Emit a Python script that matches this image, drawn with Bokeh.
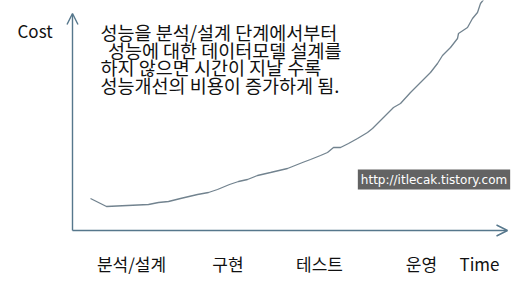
from bokeh.plotting import figure
from bokeh.models import Range1d, Arrow, OpenHead, Label, ColumnDataSource
from bokeh.core.properties import value
from bokeh.embed import file_html
from bokeh.resources import INLINE

# ---- data (time / cost in chart units, origin at the axes corner) ----
curve_time = [18, 34, 76, 86, 96, 108, 125, 136, 145, 157, 166, 175, 185, 198, 215, 220,
              230, 238, 248, 255, 261, 268, 276, 285, 295, 300, 311, 321, 328, 338, 348,
              358, 365, 370, 378, 385, 386, 395, 400, 405, 408, 412]
curve_cost = [32, 24, 26, 28, 29, 32, 36, 38, 41, 46, 49, 51, 55, 58, 62, 64,
              68, 71, 75, 78, 83, 83, 87, 92, 98, 102, 113, 123, 127, 138, 148,
              158, 167, 175, 183, 192, 197, 203, 212, 218, 227, 232]

phases = ["분석/설계", "구현", "테스트", "운영"]
phase_time = [59, 155.5, 247, 349]
x_title = "Time"
y_title = "Cost"
note_lines = ["성능을 분석/설계 단계에서부터",
              " 성능에 대한 데이터모델 설계를",
              "하지 않으면 시간이 지날 수록",
              "성능개선의 비용이 증가하게 됨."]
watermark = "http://itlecak.tistory.com"

AXIS_TIME_MAX = 435
AXIS_COST_MAX = 217

KFONT = "Noto Sans CJK KR"
AXIS_COLOR = "#56778c"
CURVE_COLOR = "#72838f"
NOTE_SIZE = 18.5

p = figure(width=522, height=283, output_backend="svg", toolbar_location=None,
           x_range=Range1d(-72, 450), y_range=Range1d(-53, 230),
           x_axis_type=None, y_axis_type=None, min_border=0)
p.grid.visible = False
p.outline_line_color = None
p.background_fill_color = "white"
p.border_fill_color = "white"

# axes with open arrow heads
p.add_layout(Arrow(x_start=0, y_start=0, x_end=AXIS_TIME_MAX, y_end=0,
                   line_color=AXIS_COLOR, line_width=1.4,
                   end=OpenHead(size=11, line_color=AXIS_COLOR, line_width=1.4)))
p.add_layout(Arrow(x_start=0, y_start=0, x_end=0, y_end=AXIS_COST_MAX,
                   line_color=AXIS_COLOR, line_width=1.4,
                   end=OpenHead(size=11, line_color=AXIS_COLOR, line_width=1.4)))

# cost curve
p.line(curve_time, curve_cost, line_color=CURVE_COLOR, line_width=1.3)

# phase labels along the time axis
src = ColumnDataSource(dict(x=phase_time, y=[-33] * len(phases), t=phases))
p.text(x="x", y="y", text="t", source=src, text_font=value(KFONT),
       text_font_size="17px", text_align="center", text_baseline="middle",
       text_color="#111111")

p.add_layout(Label(x=407, y=-33, text=x_title, text_font=KFONT, text_font_size="17px",
                   text_align="center", text_baseline="middle", text_color="#111111"))
p.add_layout(Label(x=-55, y=200, text=y_title, text_font=KFONT, text_font_size="17px",
                   text_align="left", text_baseline="middle", text_color="#111111"))

# note text block (a leading space is rendered as a small indent)
for i, line in enumerate(note_lines):
    indent = NOTE_SIZE * 0.4 * (len(line) - len(line.lstrip(" ")))
    p.add_layout(Label(x=28, y=198.5 - i * 17.5, text=line.strip(), x_offset=indent,
                       text_font=KFONT, text_font_size=f"{NOTE_SIZE}px",
                       text_align="left", text_baseline="middle",
                       text_color="#111111"))

# watermark
p.add_layout(Label(x=361.5, y=51, text=watermark, text_font="DejaVu Sans",
                   text_font_size="12px", text_align="center", text_baseline="middle",
                   text_color="white", background_fill_color="#636363",
                   padding=3))

open("out.html", "w").write(file_html(p, INLINE))
